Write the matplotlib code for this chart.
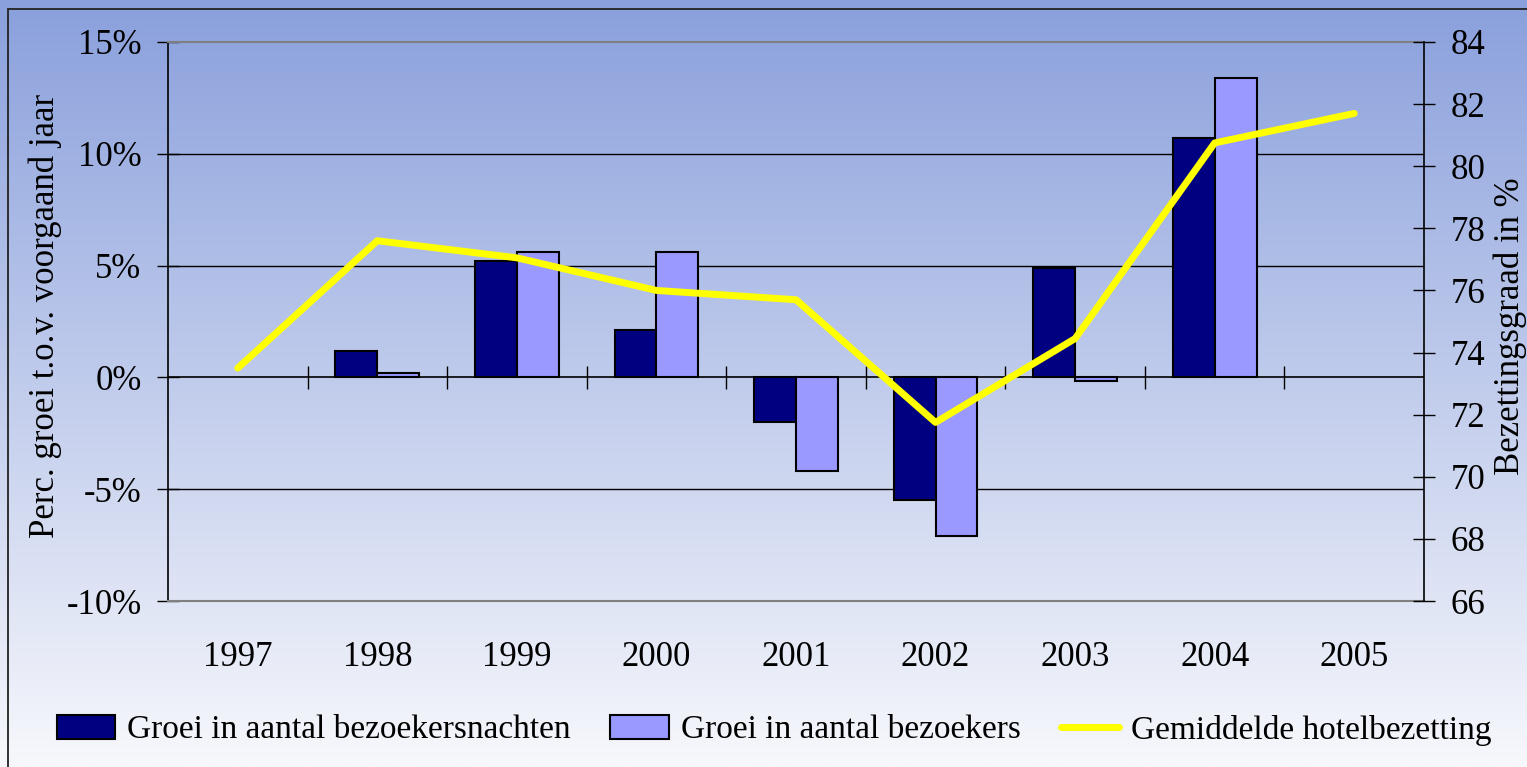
import numpy as np
import matplotlib
matplotlib.use("Agg")
import matplotlib.pyplot as plt
from matplotlib.patches import Rectangle

plt.rcParams['font.family'] = ['Liberation Serif', 'DejaVu Serif']

# data
years = ['1997', '1998', '1999', '2000', '2001', '2002', '2003', '2004', '2005']
nachten = [np.nan, 1.2, 5.2, 2.1, -2.0, -5.5, 4.9, 10.7, np.nan]
bezoekers = [np.nan, 0.2, 5.6, 5.6, -4.2, -7.1, -0.15, 13.4, np.nan]
bezetting = [73.5, 77.6, 77.05, 76.0, 75.7, 71.75, 74.45, 80.75, 81.7]
pct_ticks = [-10, -5, 0, 5, 10, 15]
occ_ticks = [66, 68, 70, 72, 74, 76, 78, 80, 82, 84]

W, H = 1527, 767
fig = plt.figure(figsize=(W / 100, H / 100), dpi=100)

# achtergrond verloop
bg = fig.add_axes([0, 0, 1, 1], zorder=-10)
top = np.array([138, 160, 220]) / 255
bot = np.array([247, 248, 252]) / 255
t = np.linspace(0, 1, 256)[:, None]
grad = top[None, :] * (1 - t) + bot[None, :] * t
bg.imshow(grad[:, None, :], aspect='auto', extent=[0, 1, 0, 1])
bg.axis('off')
fig.patches.append(Rectangle((8 / W, -0.1), 1.2, (H - 9) / H + 0.1, transform=fig.transFigure,
                             fill=False, edgecolor='#222222', lw=1.3))

ax = fig.add_axes([168 / W, 1 - 601 / H, (1424 - 168) / W, (601 - 42) / H])
ax.set_facecolor('none')
x = np.arange(len(years))
w = 0.3
ax.bar(x - w / 2, nachten, w, color='#000080', edgecolor='black', lw=1.5, zorder=3)
ax.bar(x + w / 2, bezoekers, w, color='#9999FF', edgecolor='black', lw=1.5, zorder=3)

ax.set_xlim(-0.5, len(years) - 0.5)
ax.set_ylim(pct_ticks[0], pct_ticks[-1])
ax.set_yticks(pct_ticks)
ax.set_yticklabels([f"{v}%" for v in pct_ticks])
for v in pct_ticks[1:-1]:
    if v != 0:
        ax.axhline(v, color='black', lw=1, zorder=1)
ax.axhline(0, color='black', lw=1.2, zorder=4)
ax.vlines(x[:-1] + 0.5, -0.5, 0.5, color='black', lw=1, zorder=4)

ax.set_xticks(x)
ax.set_xticklabels(years, fontsize=25)
ax.tick_params(axis='x', length=0, pad=29)
ax.tick_params(axis='y', direction='inout', length=16, width=1, labelsize=25, pad=11)
for s in ['top', 'bottom']:
    ax.spines[s].set_color('#808080')
    ax.spines[s].set_linewidth(1.5)
ax.spines['left'].set_linewidth(1.2)
ax.spines['right'].set_visible(False)

ax2 = ax.twinx()
ax2.set_facecolor('none')
ax2.plot(x, bezetting, color='#FFFF00', lw=5, solid_capstyle='round', zorder=5)
ax2.set_ylim(occ_ticks[0], occ_ticks[-1])
ax2.set_yticks(occ_ticks)
ax2.tick_params(axis='y', direction='inout', length=16, width=1, labelsize=25, pad=11)
for s in ['top', 'bottom', 'left']:
    ax2.spines[s].set_visible(False)
ax2.spines['right'].set_linewidth(1.2)

fig.text(45 / W, 1 - 316 / H, 'Perc. groei t.o.v. voorgaand jaar', rotation=90,
         ha='center', va='center', fontsize=25)
fig.text(1510 / W, 1 - 326 / H, 'Bezettingsgraad in %', rotation=90,
         ha='center', va='center', fontsize=25)

h1 = Rectangle((0, 0), 1, 1, facecolor='#000080', edgecolor='black', lw=1.5)
h2 = Rectangle((0, 0), 1, 1, facecolor='#9999FF', edgecolor='black', lw=1.5)
h3 = plt.Line2D([], [], color='#FFFF00', lw=5, solid_capstyle='round')
fig.legend([h1, h2, h3],
           ['Groei in aantal bezoekersnachten', 'Groei in aantal bezoekers', 'Gemiddelde hotelbezetting'],
           loc='center', bbox_to_anchor=(774 / W, 1 - 730 / H), ncol=3, frameon=False,
           fontsize=24, handlelength=1.75, handleheight=0.7, handletextpad=0.36,
           columnspacing=1.2, borderpad=0)

fig.savefig('out.png', dpi=100)
